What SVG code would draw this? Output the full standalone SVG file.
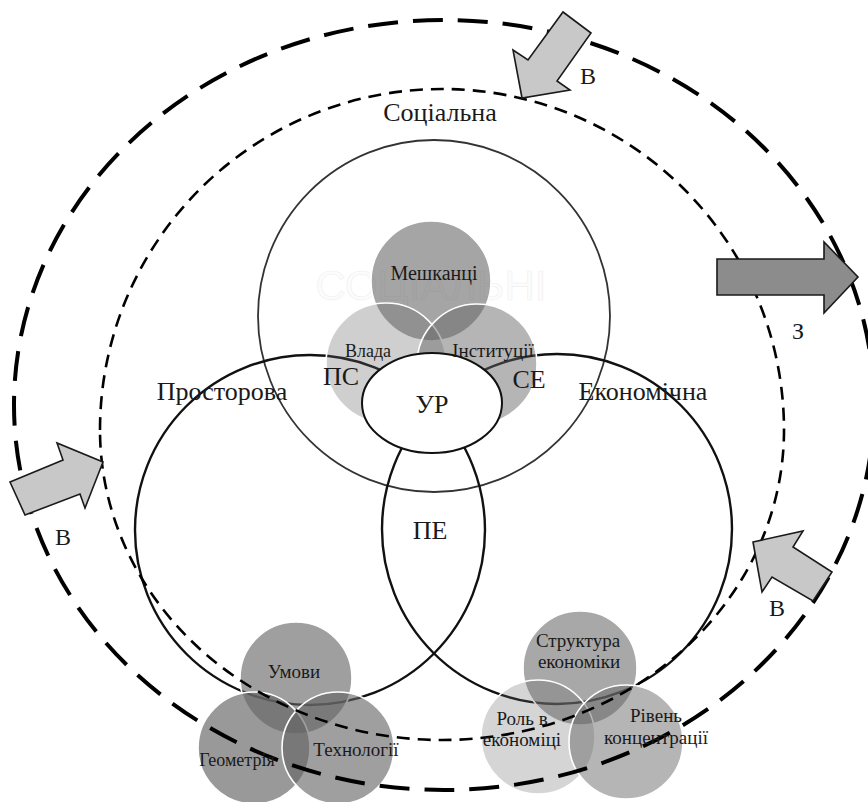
<svg xmlns="http://www.w3.org/2000/svg" width="868" height="802" viewBox="0 0 868 802">
<style>
.t{font-family:"Liberation Serif","Times New Roman",serif;fill:#1a1a1a;text-anchor:middle}
.big{font-size:26px}
.mid{font-size:24px}
.sm{font-size:19px}
.ring{fill:none;stroke:#111;stroke-width:2.4}
.ring2{fill:none;stroke:#333;stroke-width:1.8}
.g{fill:#646464;stroke:#fff;stroke-width:1.6}
.arrow{stroke:#1a1a1a;stroke-width:1.6;stroke-linejoin:miter}
.light{fill:#c8c8c8}
.dark{fill:#8c8c8c}
</style>
<rect width="868" height="802" fill="#fff"/>

<g id="sphere-social"><circle class="ring2" cx="434" cy="316" r="176"/></g>
<g id="sphere-spatial"><circle class="ring" cx="310" cy="530" r="175"/></g>
<g id="sphere-economic"><circle class="ring" cx="557" cy="529" r="175"/></g>

<g id="watermark"><text x="431" y="300" style="font-family:'Liberation Sans',Arial,sans-serif;font-size:42px;fill:#fcfcfc;stroke:#f0f0f0;stroke-width:0.6;text-anchor:middle">СОЦІАЛЬНІ</text></g>

<g id="cluster-social">
<g id="n-residents"><circle class="g" cx="431" cy="281" r="60" fill-opacity="0.58"/></g>
<g id="n-power"><circle class="g" cx="386" cy="363" r="60" fill-opacity="0.31"/></g>
<g id="n-institutions"><circle class="g" cx="477" cy="364" r="60" fill-opacity="0.48"/></g>
</g>
<g id="cluster-spatial">
<g id="n-conditions"><circle class="g" cx="296" cy="678" r="56" fill-opacity="0.62"/></g>
<g id="n-geometry"><circle class="g" cx="254" cy="748" r="56" fill-opacity="0.66"/></g>
<g id="n-technology"><circle class="g" cx="338" cy="748" r="56" fill-opacity="0.62"/></g>
</g>
<g id="cluster-economic">
<g id="n-structure"><circle class="g" cx="580" cy="668" r="57" fill-opacity="0.56"/></g>
<g id="n-role"><circle class="g" cx="538" cy="737" r="57" fill-opacity="0.27"/></g>
<g id="n-concentration"><circle class="g" cx="626" cy="742" r="57" fill-opacity="0.48"/></g>
</g>

<g id="boundaries">
<ellipse cx="444" cy="405" rx="430" ry="385" fill="none" stroke="#000" stroke-width="4" stroke-dasharray="30 15"/>
<path d="M100,430 A342,341 0 0 1 784,430 A342,310 0 0 1 100,430 Z" fill="none" stroke="#000" stroke-width="2.6" stroke-dasharray="13 8"/>
</g>

<g id="n-ur"><ellipse cx="432" cy="403" rx="70" ry="50" fill="#fff" stroke="#111" stroke-width="2"/></g>

<g id="connectors">
<polygon id="arrow-top" class="arrow light" points="563,12 591,33 557,81 570,90 522,98 513,50 528,60"/>
<polygon id="arrow-right" class="arrow dark" points="717,259 824,259 824,242 858,277 824,313 824,295 717,295"/>
<polygon id="arrow-left" class="arrow light" points="10,482 63,460 57,443 103,462 85,508 80,494 25,515"/>
<polygon id="arrow-bottom-right" class="arrow light" points="753,542 803,531 793,547 832,572 813,601 772,577 762,592"/>
</g>

<g id="labels">
<text class="t big" x="440" y="121">Соціальна</text>
<text class="t big" x="222" y="400">Просторова</text>
<text class="t big" x="643" y="400">Економічна</text>
<text class="t big" x="341" y="385">ПС</text>
<text class="t big" x="529" y="388">СЕ</text>
<text class="t big" x="432" y="413">УР</text>
<text class="t big" x="430" y="539">ПЕ</text>
<text class="t" style="font-size:20px" x="434" y="280">Мешканці</text>
<text class="t" style="font-size:18px" x="368" y="357">Влада</text>
<text class="t sm" x="493" y="357">Інституції</text>
<text class="t sm" x="294" y="678">Умови</text>
<text class="t" style="font-size:18px" x="237" y="766">Геометрія</text>
<text class="t sm" x="356" y="756">Технології</text>
<text class="t sm" x="578" y="647">Структура</text>
<text class="t sm" x="579" y="668">економіки</text>
<text class="t sm" x="522" y="725">Роль в</text>
<text class="t sm" x="522" y="746">економіці</text>
<text class="t sm" x="656" y="722">Рівень</text>
<text class="t sm" x="656" y="744">концентрації</text>
<text class="t mid" x="588" y="84">В</text>
<text class="t mid" x="798" y="339">З</text>
<text class="t mid" x="63" y="545">В</text>
<text class="t mid" x="777" y="616">В</text>
</g>
</svg>
